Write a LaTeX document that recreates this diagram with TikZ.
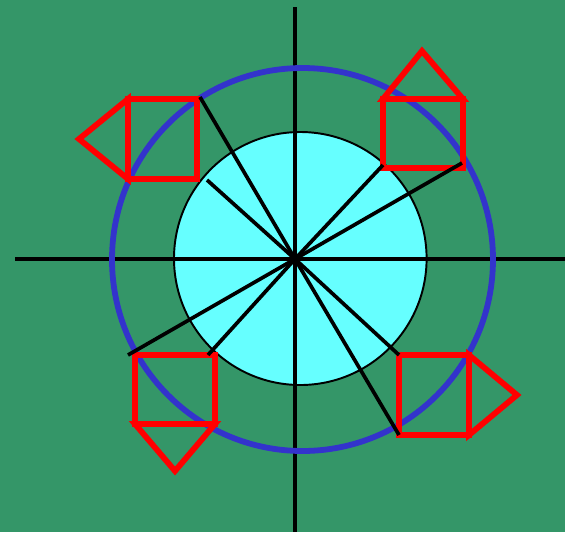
\documentclass[tikz,border=0pt]{standalone}
\usepackage{tikz}
\usetikzlibrary{calc}
\definecolor{fieldgreen}{RGB}{52,150,104}
\definecolor{discblue}{RGB}{51,51,204}
\definecolor{disccyan}{RGB}{102,255,255}

\begin{document}
\begin{tikzpicture}[x=0.02cm, y=-0.02cm,
        axisline/.style={black, line width=2.2pt},
        spoke/.style={black, line width=2.1pt},
        ring/.style={draw=discblue, line width=3.3pt},
        inner/.style={draw=black, fill=disccyan, line width=1.1pt},
        house/.style={draw=red, line width=3.3pt}]
        % background and frame
        \fill[fieldgreen] (0,0) rectangle (565,532);
        \useasboundingbox (0,0) rectangle (565,532);
        \coordinate (O) at (295,259);
        % circles
        \draw[inner] (300.3,258.5) ellipse (126.3 and 126.5);
        \draw[axisline] (15,259) -- (565,259);
        \draw[axisline] (295,7) -- (295,532);
        \draw[ring] (302.5,259.5) ellipse (190.5 and 191.5);
        % houses
        \draw[house] (128,99) rectangle (197,179)
                     (128,99) -- (79,139) -- (128,179) -- cycle;
        \draw[house] (383,99) rectangle (463,168)
                     (383,99) -- (422,51) -- (463,99) -- cycle;
        \draw[house] (135,355) rectangle (215,424)
                     (135,424) -- (175,471) -- (215,424) -- cycle;
        \draw[house] (399,355) rectangle (469,435)
                     (469,355) -- (517,395) -- (469,435) -- cycle;
        % spokes
        \foreach \p in {(200,97),(207,180),(383,165),(462,163),
                        (128,355),(208,355),(399,355),(399,435)}
            \draw[spoke] (O) -- \p;
    \end{tikzpicture}
\end{document}
